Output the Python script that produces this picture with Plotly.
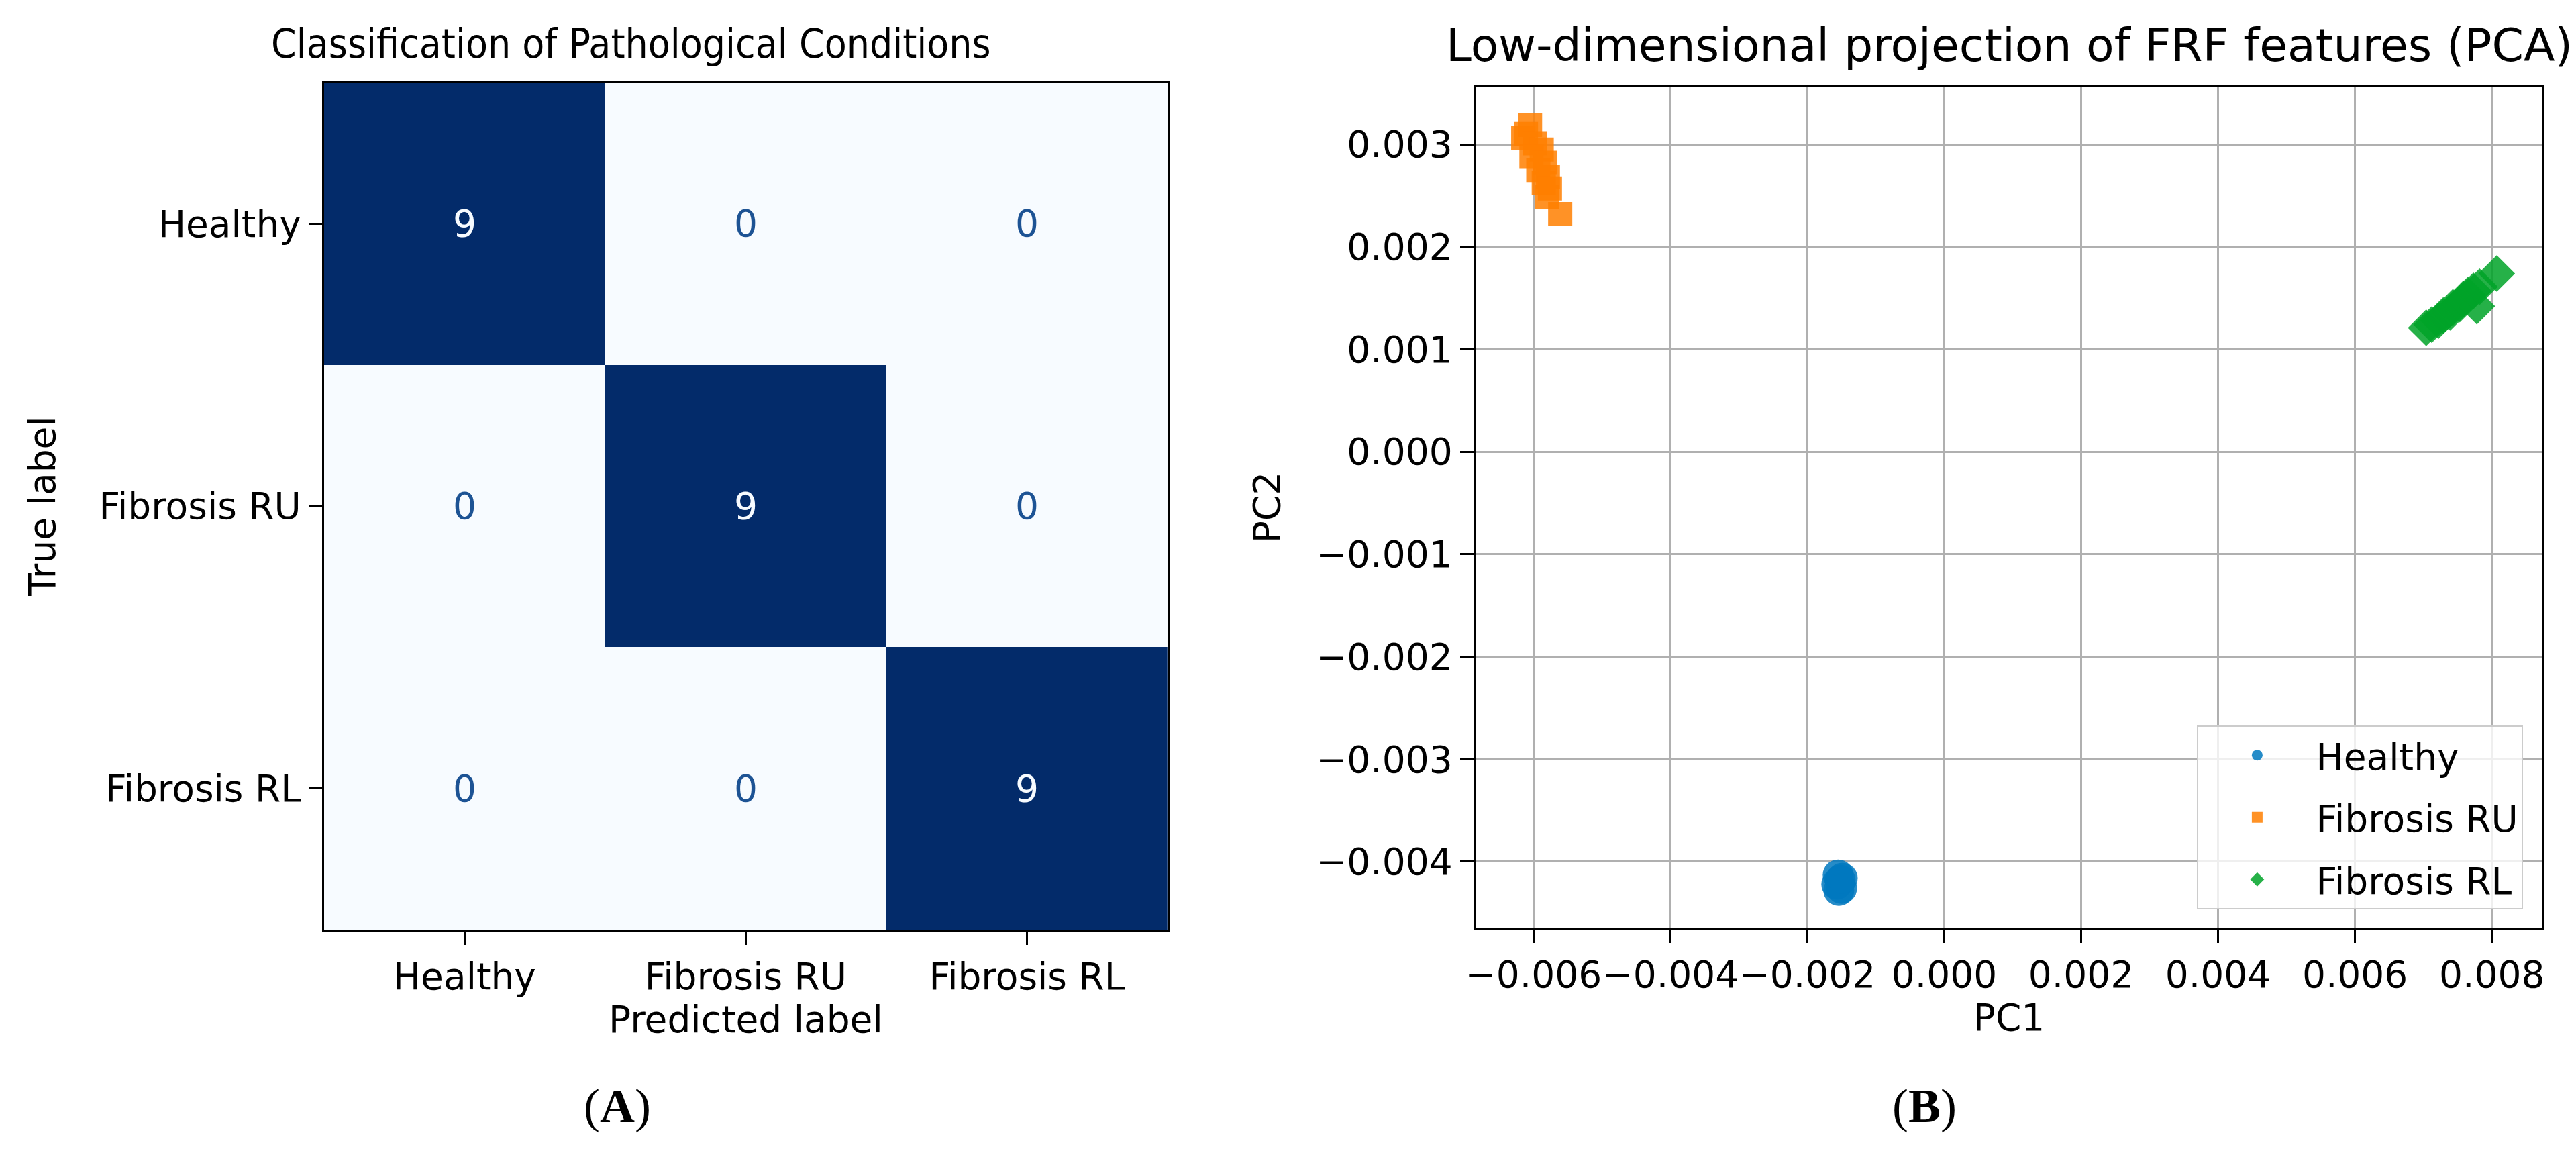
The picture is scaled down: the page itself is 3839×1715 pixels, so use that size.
import plotly.graph_objects as go

# ---------------- data ----------------
class_labels = ["Healthy", "Fibrosis RU", "Fibrosis RL"]
confusion = [
    [9, 0, 0],
    [0, 9, 0],
    [0, 0, 9],
]

healthy_pc1 = [-0.00155, -0.00152, -0.00157, -0.00150, -0.00154, -0.00149]
healthy_pc2 = [-0.00413, -0.00418, -0.00422, -0.00426, -0.00428, -0.00416]

ru_pc1 = [-0.00605, -0.00611, -0.00615, -0.00598, -0.00588, -0.00603, -0.00583,
          -0.00593, -0.00579, -0.00585, -0.00576, -0.00580, -0.00561]
ru_pc2 = [0.00319, 0.00310, 0.00306, 0.00301, 0.00295, 0.00288, 0.00282,
          0.00275, 0.00268, 0.00262, 0.00257, 0.00249, 0.00232]

rl_pc1 = [0.00704, 0.00712, 0.00722, 0.00729, 0.00739, 0.00743, 0.00753,
          0.00758, 0.00765, 0.00778, 0.00773, 0.00782, 0.00807]
rl_pc2 = [0.00121, 0.00124, 0.00128, 0.00133, 0.00136, 0.00141, 0.00144,
          0.00149, 0.00153, 0.00142, 0.00157, 0.00161, 0.00174]

pc1_ticks = [-0.006, -0.004, -0.002, 0.000, 0.002, 0.004, 0.006, 0.008]
pc2_ticks = [-0.004, -0.003, -0.002, -0.001, 0.000, 0.001, 0.002, 0.003]

# ---------------- figure ----------------
W, H = 3839, 1715
FONT = "DejaVu Sans"
TICK = 55

fig = go.Figure()

n = len(class_labels)
idx = list(range(n))
fig.add_trace(go.Heatmap(
    z=confusion, x=idx, y=idx,
    colorscale=[[0, "#f7fbff"], [1, "#032b6a"]],
    showscale=False, hoverinfo="skip",
    xaxis="x", yaxis="y",
))

zmax = max(max(r) for r in confusion)
for i, row in enumerate(confusion):
    for j, v in enumerate(row):
        fig.add_annotation(
            x=j, y=i, xref="x", yref="y", text=str(v), showarrow=False,
            font=dict(family=FONT, size=TICK,
                      color="#f7fbff" if v > zmax / 2 else "#1d5394"),
        )

marker_line = dict(width=0)
fig.add_trace(go.Scatter(
    x=healthy_pc1, y=healthy_pc2, mode="markers", name="Healthy", legendgroup="h",
    marker=dict(symbol="circle", size=46, color="#0078be", opacity=0.85, line=marker_line),
    xaxis="x2", yaxis="y2",
))
fig.add_trace(go.Scatter(
    x=ru_pc1, y=ru_pc2, mode="markers", name="Fibrosis RU", legendgroup="ru",
    marker=dict(symbol="square", size=36, color="#ff7f00", opacity=0.85, line=marker_line),
    xaxis="x2", yaxis="y2",
))
fig.add_trace(go.Scatter(
    x=rl_pc1, y=rl_pc2, mode="markers", name="Fibrosis RL", legendgroup="rl",
    marker=dict(symbol="diamond", size=42, color="#00a328", opacity=0.85, line=marker_line),
    xaxis="x2", yaxis="y2",
))

axis_common = dict(
    showline=True, mirror=True, linecolor="black", linewidth=3,
    ticks="outside", ticklen=20, tickwidth=3, tickcolor="black",
    tickfont=dict(family=FONT, size=TICK, color="black"),
    zeroline=False, tickangle=0,
)

fig.update_layout(
    width=W, height=H, autosize=False,
    margin=dict(l=0, r=0, t=0, b=0),
    paper_bgcolor="white", plot_bgcolor="white",
    font=dict(family=FONT, size=TICK, color="black"),
    xaxis=dict(
        domain=[462 / W, 1725 / W], range=[-0.5, n - 0.5],
        tickvals=idx, ticktext=class_labels, showgrid=False,
        title=dict(text="Predicted label", font=dict(family=FONT, size=TICK), standoff=8),
        **axis_common,
    ),
    yaxis=dict(
        domain=[1 - 1377 / H, 1 - 115 / H], range=[n - 0.5, -0.5],
        tickvals=idx, ticktext=class_labels, showgrid=False,
        title=dict(text="True label", font=dict(family=FONT, size=TICK), standoff=48),
        **axis_common,
    ),
    xaxis2=dict(
        domain=[2186 / W, 3784 / W], range=[-0.006849, 0.008741],
        tickvals=pc1_ticks, tickformat=".3f",
        showgrid=True, gridcolor="#b0b0b0", gridwidth=3,
        title=dict(text="PC1", font=dict(family=FONT, size=TICK), standoff=8),
        anchor="y2",
        **axis_common,
    ),
    yaxis2=dict(
        domain=[1 - 1374 / H, 1 - 122 / H], range=[-0.004642, 0.003557],
        tickvals=pc2_ticks, tickformat=".3f",
        showgrid=True, gridcolor="#b0b0b0", gridwidth=3,
        title=dict(text="PC2", font=dict(family=FONT, size=TICK), standoff=36),
        anchor="x2",
        **axis_common,
    ),
    showlegend=True,
    legend=dict(
        x=3755 / W, y=1 - 1347 / H, xanchor="right", yanchor="bottom",
        bgcolor="rgba(255,255,255,0.8)", bordercolor="#cccccc", borderwidth=2,
        font=dict(family=FONT, size=TICK, color="black"),
        itemsizing="trace", itemwidth=165, tracegroupgap=18,
    ),
)

fig.add_annotation(
    x=922 / W, y=1 - 57 / H, xref="paper", yref="paper", showarrow=False,
    text="Classification of Pathological Conditions",
    font=dict(family="DejaVu Sans Condensed, DejaVu Sans", size=60, color="black"),
    xanchor="center", yanchor="middle",
)
fig.add_annotation(
    x=2985 / W, y=1 - 60 / H, xref="paper", yref="paper", showarrow=False,
    text="Low-dimensional projection of FRF features (PCA)",
    font=dict(family=FONT, size=68, color="black"), xanchor="center", yanchor="middle",
)
fig.add_annotation(
    x=901 / W, y=1 - 1640 / H, xref="paper", yref="paper", showarrow=False,
    text="(<b>A</b>)", font=dict(family="Liberation Serif", size=72, color="black"),
    xanchor="center", yanchor="middle",
)
fig.add_annotation(
    x=2858 / W, y=1 - 1640 / H, xref="paper", yref="paper", showarrow=False,
    text="(<b>B</b>)", font=dict(family="Liberation Serif", size=72, color="black"),
    xanchor="center", yanchor="middle",
)

fig.write_html("out.html")
